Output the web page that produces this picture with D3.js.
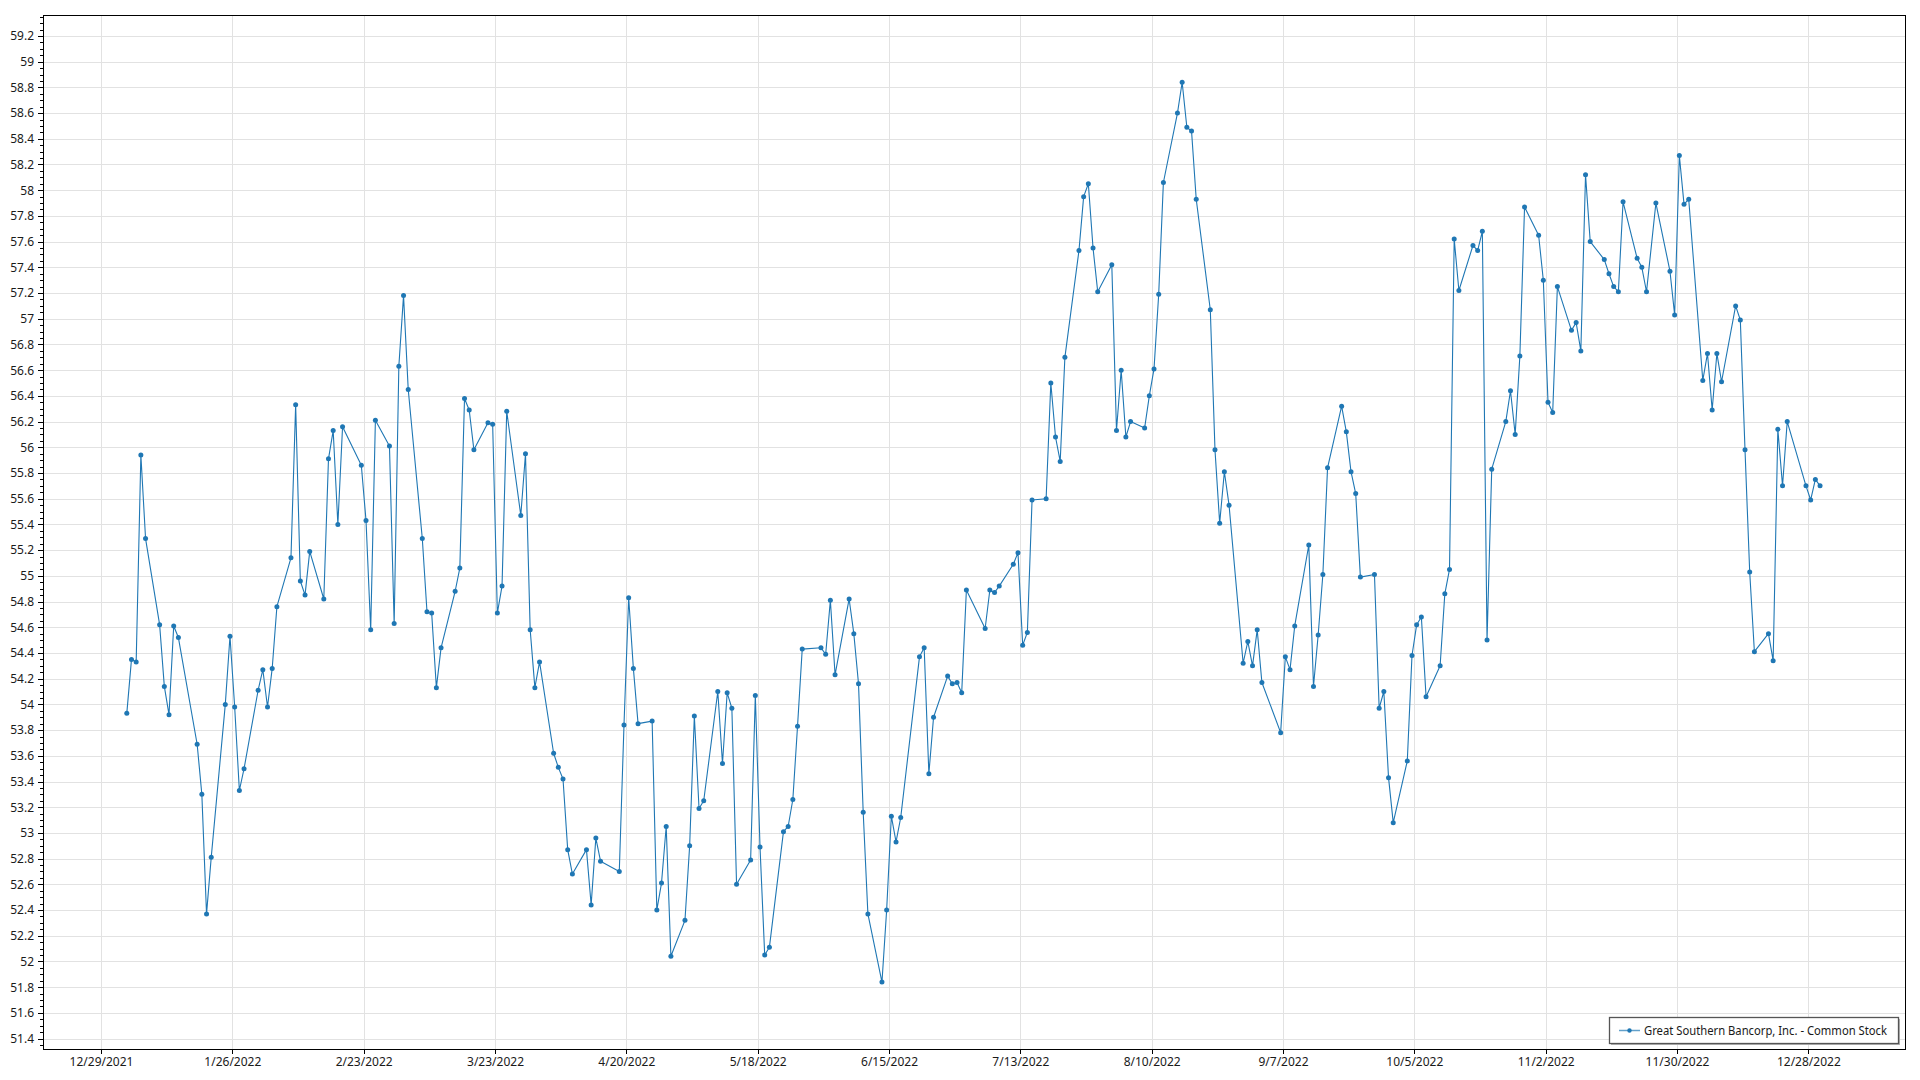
<!DOCTYPE html>
<html><head><meta charset="utf-8">
<script src="https://cdn.jsdelivr.net/npm/d3@7"></script>
<style>
body{margin:0;background:#fff}
svg text{font-family:'Segoe UI','Noto Sans','Open Sans',sans-serif;fill:#1a1a1a}
</style>
</head><body>
<svg id="chart" width="1920" height="1080"></svg>
<script>
const seriesName = "Great Southern Bancorp, Inc. - Common Stock";

const dates = [
"2022-01-03","2022-01-04","2022-01-05","2022-01-06","2022-01-07","2022-01-10","2022-01-11","2022-01-12","2022-01-13","2022-01-14",
"2022-01-18","2022-01-19","2022-01-20","2022-01-21","2022-01-24","2022-01-25","2022-01-26","2022-01-27","2022-01-28","2022-01-31",
"2022-02-01","2022-02-02","2022-02-03","2022-02-04","2022-02-07","2022-02-08","2022-02-09","2022-02-10","2022-02-11","2022-02-14",
"2022-02-15","2022-02-16","2022-02-17","2022-02-18","2022-02-22","2022-02-23","2022-02-24","2022-02-25","2022-02-28","2022-03-01",
"2022-03-02","2022-03-03","2022-03-04","2022-03-07","2022-03-08","2022-03-09","2022-03-10","2022-03-11","2022-03-14","2022-03-15",
"2022-03-16","2022-03-17","2022-03-18","2022-03-21","2022-03-22","2022-03-23","2022-03-24","2022-03-25","2022-03-28","2022-03-29",
"2022-03-30","2022-03-31","2022-04-01","2022-04-04","2022-04-05","2022-04-06","2022-04-07","2022-04-08","2022-04-11","2022-04-12",
"2022-04-13","2022-04-14","2022-04-18","2022-04-19","2022-04-20","2022-04-21","2022-04-22","2022-04-25","2022-04-26","2022-04-27",
"2022-04-28","2022-04-29","2022-05-02","2022-05-03","2022-05-04","2022-05-05","2022-05-06","2022-05-09","2022-05-10","2022-05-11",
"2022-05-12","2022-05-13","2022-05-16","2022-05-17","2022-05-18","2022-05-19","2022-05-20","2022-05-23","2022-05-24","2022-05-25",
"2022-05-26","2022-05-27","2022-05-31","2022-06-01","2022-06-02","2022-06-03","2022-06-06","2022-06-07","2022-06-08","2022-06-09",
"2022-06-10","2022-06-13","2022-06-14","2022-06-15","2022-06-16","2022-06-17","2022-06-21","2022-06-22","2022-06-23","2022-06-24",
"2022-06-27","2022-06-28","2022-06-29","2022-06-30","2022-07-01","2022-07-05","2022-07-06","2022-07-07","2022-07-08","2022-07-11",
"2022-07-12","2022-07-13","2022-07-14","2022-07-15","2022-07-18","2022-07-19","2022-07-20","2022-07-21","2022-07-22","2022-07-25",
"2022-07-26","2022-07-27","2022-07-28","2022-07-29","2022-08-01","2022-08-02","2022-08-03","2022-08-04","2022-08-05","2022-08-08",
"2022-08-09","2022-08-10","2022-08-11","2022-08-12","2022-08-15","2022-08-16","2022-08-17","2022-08-18","2022-08-19","2022-08-22",
"2022-08-23","2022-08-24","2022-08-25","2022-08-26","2022-08-29","2022-08-30","2022-08-31","2022-09-01","2022-09-02","2022-09-06",
"2022-09-07","2022-09-08","2022-09-09","2022-09-12","2022-09-13","2022-09-14","2022-09-15","2022-09-16","2022-09-19","2022-09-20",
"2022-09-21","2022-09-22","2022-09-23","2022-09-26","2022-09-27","2022-09-28","2022-09-29","2022-09-30","2022-10-03","2022-10-04",
"2022-10-05","2022-10-06","2022-10-07","2022-10-10","2022-10-11","2022-10-12","2022-10-13","2022-10-14","2022-10-17","2022-10-18",
"2022-10-19","2022-10-20","2022-10-21","2022-10-24","2022-10-25","2022-10-26","2022-10-27","2022-10-28","2022-10-31","2022-11-01",
"2022-11-02","2022-11-03","2022-11-04","2022-11-07","2022-11-08","2022-11-09","2022-11-10","2022-11-11","2022-11-14","2022-11-15",
"2022-11-16","2022-11-17","2022-11-18","2022-11-21","2022-11-22","2022-11-23","2022-11-25","2022-11-28","2022-11-29","2022-11-30",
"2022-12-01","2022-12-02","2022-12-05","2022-12-06","2022-12-07","2022-12-08","2022-12-09","2022-12-12","2022-12-13","2022-12-14",
"2022-12-15","2022-12-16","2022-12-19","2022-12-20","2022-12-21","2022-12-22","2022-12-23","2022-12-27","2022-12-28","2022-12-29",
"2022-12-30"
];

const prices = [
53.93,54.35,54.33,55.94,55.29,54.62,54.14,53.92,54.61,54.52,
53.69,53.30,52.37,52.81,54.00,54.53,53.98,53.33,53.50,54.11,
54.27,53.98,54.28,54.76,55.14,56.33,54.96,54.85,55.19,54.82,
55.91,56.13,55.40,56.16,55.86,55.43,54.58,56.21,56.01,54.63,
56.63,57.18,56.45,55.29,54.72,54.71,54.13,54.44,54.88,55.06,
56.38,56.29,55.98,56.19,56.18,54.71,54.92,56.28,55.47,55.95,
54.58,54.13,54.33,53.62,53.51,53.42,52.87,52.68,52.87,52.44,
52.96,52.78,52.70,53.84,54.83,54.28,53.85,53.87,52.40,52.61,
53.05,52.04,52.32,52.90,53.91,53.19,53.25,54.10,53.54,54.09,
53.97,52.60,52.79,54.07,52.89,52.05,52.11,53.01,53.05,53.26,
53.83,54.43,54.44,54.39,54.81,54.23,54.82,54.55,54.16,53.16,
52.37,51.84,52.40,53.13,52.93,53.12,54.37,54.44,53.46,53.90,
54.22,54.16,54.17,54.09,54.89,54.59,54.89,54.87,54.92,55.09,
55.18,54.46,54.56,55.59,55.60,56.50,56.08,55.89,56.70,57.53,
57.95,58.05,57.55,57.21,57.42,56.13,56.60,56.08,56.20,56.15,
56.40,56.61,57.19,58.06,58.60,58.84,58.49,58.46,57.93,57.07,
55.98,55.41,55.81,55.55,54.32,54.49,54.30,54.58,54.17,53.78,
54.37,54.27,54.61,55.24,54.14,54.54,55.01,55.84,56.32,56.12,
55.81,55.64,54.99,55.01,53.97,54.10,53.43,53.08,53.56,54.38,
54.62,54.68,54.06,54.30,54.86,55.05,57.62,57.22,57.57,57.53,
57.68,54.50,55.83,56.20,56.44,56.10,56.71,57.87,57.65,57.30,
56.35,56.27,57.25,56.91,56.97,56.75,58.12,57.60,57.46,57.35,
57.25,57.21,57.91,57.47,57.40,57.21,57.90,57.37,57.03,58.27,
57.89,57.93,56.52,56.73,56.29,56.73,56.51,57.10,56.99,55.98,
55.03,54.41,54.55,54.34,56.14,55.70,56.20,55.70,55.59,55.75,
55.70
];

const xTickLabels = ["12/29/2021","1/26/2022","2/23/2022","3/23/2022","4/20/2022","5/18/2022","6/15/2022",
  "7/13/2022","8/10/2022","9/7/2022","10/5/2022","11/2/2022","11/30/2022","12/28/2022"];
const yTickLabels = ["51.4","51.6","51.8","52","52.2","52.4","52.6","52.8","53","53.2","53.4","53.6","53.8",
  "54","54.2","54.4","54.6","54.8","55","55.2","55.4","55.6","55.8","56","56.2","56.4","56.6","56.8",
  "57","57.2","57.4","57.6","57.8","58","58.2","58.4","58.6","58.8","59","59.2"];

// ---- layout ----
const W = 1920, H = 1080;
const plot = {left: 43, top: 15, right: 1905, bottom: 1049};
const color = "#1f77b4";

const parseDay = d3.timeParse("%Y-%m-%d");
const parseLabel = d3.timeParse("%m/%d/%Y");
const fmtLabel = d => `${d.getMonth()+1}/${d.getDate()}/${d.getFullYear()}`;

const data = dates.map((d, i) => ({date: d3.timeHour.offset(parseDay(d), 12), value: prices[i]}));

const x = d3.scaleTime()
  .domain([new Date(2021, 11, 16, 15, 14), new Date(2023, 0, 17, 14, 38)])
  .range([plot.left, plot.right]);
const y = d3.scaleLinear()
  .domain([51.319, 59.363])
  .range([plot.bottom, plot.top]);

const svg = d3.select("#chart");
svg.append("rect").attr("width", W).attr("height", H).attr("fill", "#fff");

const xTicks = xTickLabels.map(parseLabel);
const yTicks = yTickLabels.map(Number);

// gridlines
const grid = svg.append("g").attr("shape-rendering", "crispEdges");
grid.selectAll("line.gy").data(yTicks).join("line")
  .attr("x1", plot.left).attr("x2", plot.right)
  .attr("y1", d => Math.round(y(d)) + 0.5).attr("y2", d => Math.round(y(d)) + 0.5)
  .attr("stroke", "#e2e2e2");
grid.selectAll("line.gx").data(xTicks).join("line")
  .attr("y1", plot.top).attr("y2", plot.bottom)
  .attr("x1", d => Math.round(x(d)) + 0.5).attr("x2", d => Math.round(x(d)) + 0.5)
  .attr("stroke", "#e2e2e2");

// axes
const yAxis = d3.axisLeft(y).tickValues(yTicks).tickFormat((d, i) => yTickLabels[i]).tickSize(5).tickPadding(4);
const gy = svg.append("g").attr("transform", `translate(${plot.left},0)`).call(yAxis);
gy.select(".domain").remove();
gy.selectAll("text").attr("font-size", 12).style("font-family", "'Segoe UI','Noto Sans',sans-serif");
gy.selectAll("line").attr("stroke", "#000").attr("shape-rendering", "crispEdges");
// minor y ticks
const yMinor = d3.range(yTicks[0] - 0.2, yTicks[yTicks.length - 1] + 0.2, 0.05)
  .filter(v => v >= y.domain()[0] && v <= y.domain()[1]);
svg.append("g").attr("shape-rendering", "crispEdges").selectAll("line").data(yMinor).join("line")
  .attr("x1", plot.left - 3).attr("x2", plot.left)
  .attr("y1", d => Math.round(y(d)) + 0.5).attr("y2", d => Math.round(y(d)) + 0.5)
  .attr("stroke", "#000");

const xAxis = d3.axisBottom(x).tickValues(xTicks).tickFormat(fmtLabel).tickSize(5).tickPadding(3);
const gx = svg.append("g").attr("transform", `translate(0,${plot.bottom})`).call(xAxis);
gx.select(".domain").remove();
gx.selectAll("text").attr("font-size", 12).style("font-family", "'Segoe UI','Noto Sans',sans-serif");
gx.selectAll("line").attr("stroke", "#000").attr("shape-rendering", "crispEdges");

// series
const line = d3.line().x(d => x(d.date)).y(d => y(d.value));
svg.append("path").datum(data).attr("d", line)
  .attr("fill", "none").attr("stroke", color).attr("stroke-width", 1.1).attr("stroke-linejoin", "round");
svg.append("g").selectAll("circle").data(data).join("circle")
  .attr("cx", d => x(d.date)).attr("cy", d => y(d.value)).attr("r", 2.5).attr("fill", color);

// frame
svg.append("rect")
  .attr("x", plot.left + 0.5).attr("y", plot.top + 0.5)
  .attr("width", plot.right - plot.left).attr("height", plot.bottom - plot.top)
  .attr("fill", "none").attr("stroke", "#000").attr("shape-rendering", "crispEdges");

// legend
const lg = {x: 1609, y: 1017, w: 289, h: 26};
const legend = svg.append("g");
legend.append("rect").attr("x", lg.x + 2).attr("y", lg.y + 2).attr("width", lg.w).attr("height", lg.h)
  .attr("fill", "#b4b4b4");
legend.append("rect").attr("x", lg.x + 0.5).attr("y", lg.y + 0.5).attr("width", lg.w).attr("height", lg.h)
  .attr("fill", "#fff").attr("stroke", "#555").attr("stroke-width", 1.3);
legend.append("line").attr("x1", lg.x + 10).attr("x2", lg.x + 31)
  .attr("y1", lg.y + lg.h / 2 + 0.5).attr("y2", lg.y + lg.h / 2 + 0.5)
  .attr("stroke", color).attr("stroke-opacity", 0.7).attr("stroke-width", 1.5);
legend.append("circle").attr("cx", lg.x + 20.5).attr("cy", lg.y + lg.h / 2 + 0.5).attr("r", 2.2).attr("fill", color);
legend.append("text").attr("x", lg.x + 35).attr("y", lg.y + lg.h / 2 + 4.5)
  .attr("font-size", 12).attr("textLength", 243).attr("lengthAdjust", "spacingAndGlyphs").text(seriesName);
</script>
</body></html>
